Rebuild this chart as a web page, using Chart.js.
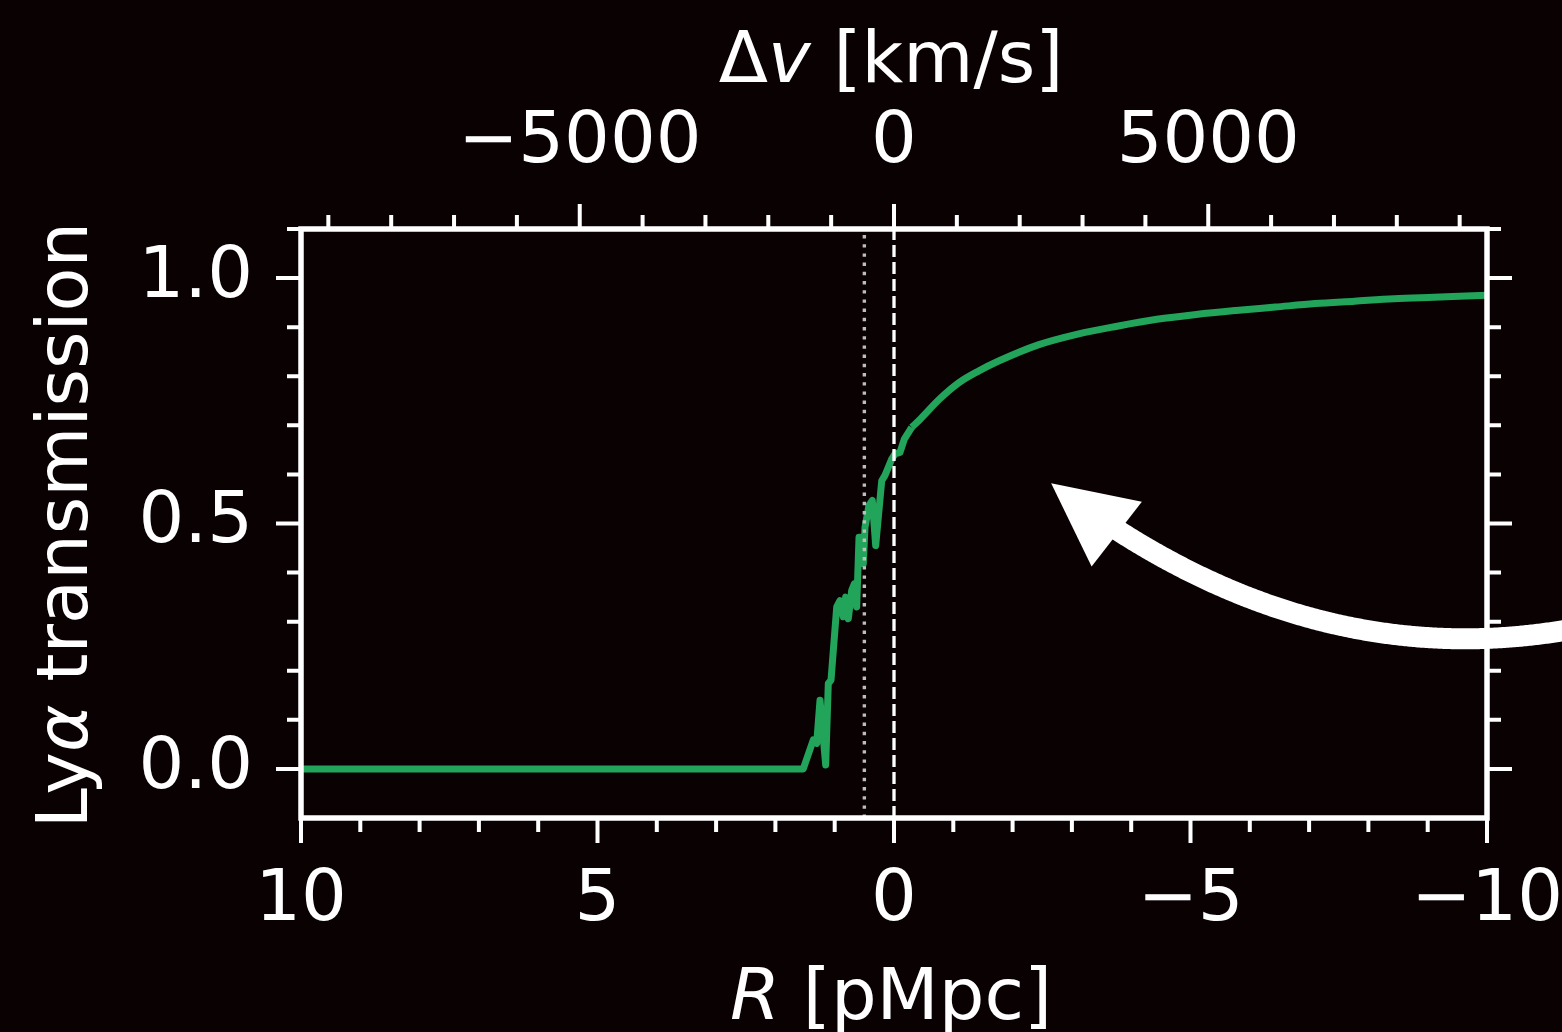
<!DOCTYPE html>
<html>
<head>
<meta charset="utf-8">
<script src="https://cdn.jsdelivr.net/npm/chart.js@4.4.1/dist/chart.umd.min.js"></script>
<style>
  html, body { margin: 0; padding: 0; background: #0a0103; overflow: hidden; }
  #wrap { width: 1562px; height: 1032px; }
  canvas { display: block; background: #0a0103; }
</style>
</head>
<body>
<div id="wrap"><canvas id="c" width="1562" height="1032"></canvas></div>
<script>
// ---------------- data ----------------
// distance from the source R [pMpc] (bottom axis, reversed)
const rPMpc = [10, 1.53, 1.361, 1.304, 1.248, 1.152, 1.108, 1.062, 0.966, 0.911,
  0.855, 0.815, 0.771, 0.713, 0.669, 0.629, 0.590, 0.545, 0.518, 0.489,
  0.422, 0.366, 0.309, 0.207, 0.152, 0.039, -0.017, -0.101, -0.174, -0.298,
  -0.438, -0.764, -1.096, -1.432, -1.764, -2.432, -3.098, -3.764, -4.432, -5.098,
  -5.766, -6.432, -7.098, -7.766, -8.432, -9.1, -10];
// Lya transmission
const transmission = [0, 0, 0.059, 0.052, 0.140, 0.008, 0.174, 0.181, 0.330, 0.343,
  0.310, 0.350, 0.306, 0.364, 0.377, 0.330, 0.472, 0.472, 0.418, 0.492,
  0.537, 0.547, 0.455, 0.587, 0.598, 0.631, 0.642, 0.645, 0.672, 0.696,
  0.712, 0.753, 0.787, 0.811, 0.831, 0.864, 0.886, 0.902, 0.916, 0.926,
  0.934, 0.941, 0.948, 0.953, 0.958, 0.961, 0.965];
// index from which the profile is smooth (drawn with a smooth interpolation)
const smoothFrom = 29;

// axis ranges / conversion
const rRange = [-10, 10];
const yRange = [-0.1, 1.1];
const kmsPerPMpc = 943.5;           // Δv = R * kmsPerPMpc (top axis)

// tick labels
const rMajor = [10, 5, 0, -5, -10];
const rMajorLabels = ['10', '5', '0', '\u22125', '\u221210'];
const rMinorStep = 1;
const vMajor = [-5000, 0, 5000];
const vMajorLabels = ['\u22125000', '0', '5000'];
const vMinorStep = 1000;
const yMajor = [0, 0.5, 1.0];
const yMajorLabels = ['0.0', '0.5', '1.0'];
const yMinorStep = 0.1;

// reference lines (R values)
const dashedLineR = 0;
const dottedLineR = 0.5;

// curved arrow annotation (data coords: [R, transmission])
const arrowTail = [-13.25, 0.343];
const arrowCtrl = [-7.71, 0.108];
const arrowTip = [-2.65, 0.582];

// ---------------- style ----------------
const BG = '#0a0103';
const WHITE = '#ffffff';
const GREEN = '#23a45b';
const FAM = "'DejaVu Sans', 'Liberation Sans', sans-serif";
const FS = 72;

function labelFor(majors, labels, v) {
  for (let i = 0; i < majors.length; i++) {
    if (Math.abs(majors[i] - v) < 1e-6) return labels[i];
  }
  return '';
}
function stepTicks(lo, hi, step) {
  const out = [];
  const n0 = Math.ceil(lo / step - 1e-9), n1 = Math.floor(hi / step + 1e-9);
  for (let n = n0; n <= n1; n++) out.push({ value: +(n * step).toFixed(6) });
  return out;
}

const tickFont = { family: FAM, size: FS, lineHeight: 1 };

const decoPlugin = {
  id: 'deco',
  beforeDraw(chart) {
    const g = chart.ctx;
    g.save();
    g.fillStyle = BG;
    g.fillRect(0, 0, chart.width, chart.height);
    g.restore();
  },
  afterDatasetsDraw(chart) {
    const g = chart.ctx, a = chart.chartArea, xs = chart.scales.x;
    g.save();
    // dashed line
    let px = xs.getPixelForValue(dashedLineR);
    g.strokeStyle = WHITE; g.lineWidth = 3.3; g.setLineDash([12, 5]);
    g.beginPath(); g.moveTo(px, a.bottom); g.lineTo(px, a.top); g.stroke();
    // dotted line
    px = xs.getPixelForValue(dottedLineR);
    g.strokeStyle = '#bdbdbd'; g.lineWidth = 3.4; g.setLineDash([3.4, 5.8]);
    g.beginPath(); g.moveTo(px, a.bottom); g.lineTo(px, a.top); g.stroke();
    g.restore();
  },
  afterDraw(chart) {
    const g = chart.ctx, a = chart.chartArea;
    const xs = chart.scales.x, x2 = chart.scales.x2, ys = chart.scales.y, y2 = chart.scales.y2;
    g.save();
    g.strokeStyle = WHITE; g.setLineDash([]);
    // ticks
    g.lineWidth = 4; g.lineCap = 'butt';
    const MAJ = 25, MIN = 14;
    g.beginPath();
    xs.ticks.forEach(t => {
      const p = xs.getPixelForValue(t.value);
      const L = labelFor(rMajor, rMajorLabels, t.value) ? MAJ : MIN;
      g.moveTo(p, a.bottom); g.lineTo(p, a.bottom + L);
    });
    x2.ticks.forEach(t => {
      const p = x2.getPixelForValue(t.value);
      const L = labelFor(vMajor, vMajorLabels, t.value) ? MAJ : MIN;
      g.moveTo(p, a.top); g.lineTo(p, a.top - L);
    });
    ys.ticks.forEach(t => {
      if (t.value < 0) return;
      const p = ys.getPixelForValue(t.value);
      const L = labelFor(yMajor, yMajorLabels, t.value) ? MAJ : MIN;
      g.moveTo(a.left, p); g.lineTo(a.left - L, p);
    });
    y2.ticks.forEach(t => {
      if (t.value < 0) return;
      const p = y2.getPixelForValue(t.value);
      const L = labelFor(yMajor, yMajorLabels, t.value) ? MAJ : MIN;
      g.moveTo(a.right, p); g.lineTo(a.right + L, p);
    });
    g.stroke();
    // frame
    g.lineWidth = 5.5; g.lineJoin = 'miter';
    g.strokeRect(a.left, a.top, a.right - a.left, a.bottom - a.top);

    // axis titles (mixed upright / italic)
    g.fillStyle = WHITE;
    const up = FS + 'px ' + FAM, it = 'italic ' + FS + 'px ' + FAM;
    function rich(parts, cx, by) {
      let w = 0;
      parts.forEach(p => { g.font = p[1] ? it : up; p.w = g.measureText(p[0]).width; w += p.w; });
      let x = cx - w / 2;
      g.textAlign = 'left'; g.textBaseline = 'alphabetic';
      parts.forEach(p => { g.font = p[1] ? it : up; g.fillText(p[0], x, by); x += p.w; });
    }
    const cx = (a.left + a.right) / 2, cy = (a.top + a.bottom) / 2;
    rich([['\u0394', false], ['v', true], [' [km/s]', false]], cx - 3, 82);
    rich([['R', true], [' [pMpc]', false]], cx - 3, 1019);
    g.save();
    g.translate(87, cy + 1.5);
    g.rotate(-Math.PI / 2);
    rich([['Ly', false], ['\u03b1', true], [' transmission', false]], 0, 0);
    g.restore();

    // curved arrow
    const P0 = [xs.getPixelForValue(arrowTail[0]), ys.getPixelForValue(arrowTail[1])];
    const P1 = [xs.getPixelForValue(arrowCtrl[0]), ys.getPixelForValue(arrowCtrl[1])];
    const P2 = [xs.getPixelForValue(arrowTip[0]), ys.getPixelForValue(arrowTip[1])];
    const q = t => [
      (1 - t) * (1 - t) * P0[0] + 2 * t * (1 - t) * P1[0] + t * t * P2[0],
      (1 - t) * (1 - t) * P0[1] + 2 * t * (1 - t) * P1[1] + t * t * P2[1]];
    const headLen = 83, headHalf = 41, shaftW = 21;
    g.lineWidth = shaftW; g.lineCap = 'butt'; g.lineJoin = 'round';
    g.beginPath();
    let started = false;
    for (let i = 0; i <= 400; i++) {
      const t = i / 400, p = q(t);
      if (Math.hypot(p[0] - P2[0], p[1] - P2[1]) < headLen - 8) break;
      if (!started) { g.moveTo(p[0], p[1]); started = true; } else g.lineTo(p[0], p[1]);
    }
    g.stroke();
    let dx = P2[0] - P1[0], dy = P2[1] - P1[1];
    const dl = Math.hypot(dx, dy); dx /= dl; dy /= dl;
    const bx = P2[0] - dx * headLen, by = P2[1] - dy * headLen;
    g.beginPath();
    g.moveTo(P2[0], P2[1]);
    g.lineTo(bx - dy * headHalf, by + dx * headHalf);
    g.lineTo(bx + dy * headHalf, by - dx * headHalf);
    g.closePath();
    g.fill();
    g.restore();
  }
};

const points = rPMpc.map((r, i) => ({ x: r, y: transmission[i] }));
const lineStyle = { xAxisID: 'x', yAxisID: 'y', borderColor: GREEN, borderWidth: 7, pointRadius: 0,
  fill: false, borderJoinStyle: 'round', borderCapStyle: 'butt' };

const ctx = document.getElementById('c').getContext('2d');
new Chart(ctx, {
  type: 'line',
  data: {
    datasets: [
      Object.assign({ data: points.slice(0, smoothFrom + 1), tension: 0 }, lineStyle),
      Object.assign({ data: points.slice(smoothFrom), cubicInterpolationMode: 'monotone' }, lineStyle)
    ]
  },
  options: {
    responsive: false, animation: false, devicePixelRatio: 1,
    layout: { padding: 0 },
    events: [],
    plugins: { legend: { display: false }, tooltip: { enabled: false }, title: { display: false } },
    scales: {
      x: {
        type: 'linear', position: 'bottom', reverse: true, min: rRange[0], max: rRange[1],
        afterBuildTicks(s) { s.ticks = stepTicks(rRange[0], rRange[1], rMinorStep); },
        afterFit(s) { s.height = 214; },
        ticks: { autoSkip: false, maxRotation: 0, minRotation: 0, padding: 47, color: WHITE, font: tickFont,
                 callback: v => labelFor(rMajor, rMajorLabels, v) },
        grid: { display: false, drawTicks: false }, border: { display: false }
      },
      x2: {
        type: 'linear', position: 'top', min: rRange[0] * kmsPerPMpc, max: rRange[1] * kmsPerPMpc,
        afterBuildTicks(s) { s.ticks = stepTicks(rRange[0] * kmsPerPMpc, rRange[1] * kmsPerPMpc, vMinorStep); },
        afterFit(s) { s.height = 229; },
        ticks: { autoSkip: false, maxRotation: 0, minRotation: 0, padding: 50, color: WHITE, font: tickFont,
                 callback: v => labelFor(vMajor, vMajorLabels, v) },
        grid: { display: false, drawTicks: false }, border: { display: false }
      },
      y: {
        type: 'linear', position: 'left', min: yRange[0], max: yRange[1],
        afterBuildTicks(s) { s.ticks = stepTicks(yRange[0], yRange[1], yMinorStep); },
        afterFit(s) { s.width = 301; },
        ticks: { autoSkip: false, padding: 48, color: WHITE, font: tickFont,
                 callback: v => labelFor(yMajor, yMajorLabels, v) },
        grid: { display: false, drawTicks: false }, border: { display: false }
      },
      y2: {
        type: 'linear', position: 'right', min: yRange[0], max: yRange[1],
        afterBuildTicks(s) { s.ticks = stepTicks(yRange[0], yRange[1], yMinorStep); },
        afterFit(s) { s.width = 75; },
        ticks: { display: false },
        grid: { display: false, drawTicks: false }, border: { display: false }
      }
    }
  },
  plugins: [decoPlugin]
});
</script>
</body>
</html>
